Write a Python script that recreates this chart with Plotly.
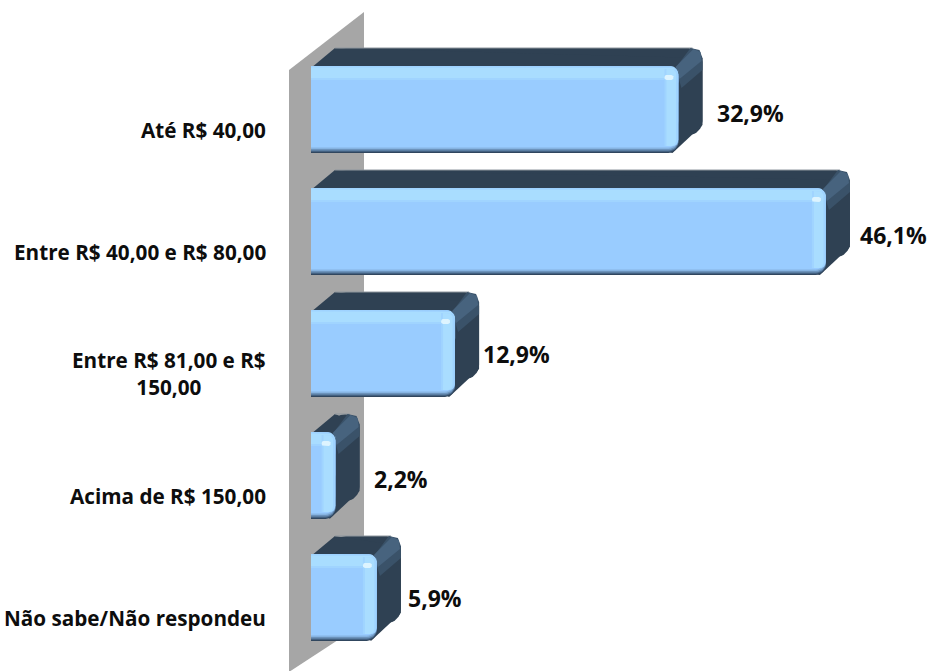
import numpy as np
import plotly.graph_objects as go

categories = ["Até R$ 40,00", "Entre R$ 40,00 e R$ 80,00", "Entre R$ 81,00 e R$<br>150,00",
              "Acima de R$ 150,00", "Não sabe/Não respondeu"]
values = [32.9, 46.1, 12.9, 2.2, 5.9]
labels = ["32,9%", "46,1%", "12,9%", "2,2%", "5,9%"]

W, H = 928, 671
X0, SX = 311.0, 11.17       # px of value 0, px per percentage point
Y0, SY = 109.5, 122.0       # px of first category, px per category
XR = [(0 - X0) / SX, (W - X0) / SX]
YR = [(H - Y0) / SY, (0 - Y0) / SY]
def ux(p): return p / SX
def uy(p): return p / SY
def dx(px): return (np.asarray(px, float) - X0) / SX
def dy(px): return (np.asarray(px, float) - Y0) / SY

DX, DY = ux(24), uy(18)
BAR = 0.713
HB = BAR / 2

def rrect(x0, y0, x1, y1, rx, ry, left=True):
    """rounded polygon in data units; y0 is the upper edge on screen"""
    t = np.linspace(0, np.pi / 2, 9)
    xs, ys = [], []
    if left:
        xs += list(x0 + rx - rx * np.cos(t)); ys += list(y0 + ry - ry * np.sin(t))
    else:
        xs.append(x0); ys.append(y0)
    xs += list(x1 - rx + rx * np.sin(t)); ys += list(y0 + ry - ry * np.cos(t))
    xs += list(x1 - rx + rx * np.cos(t)); ys += list(y1 - ry + ry * np.sin(t))
    if left:
        xs += list(x0 + rx - rx * np.sin(t)); ys += list(y1 - ry + ry * np.cos(t))
    else:
        xs.append(x0); ys.append(y1)
    return xs + [xs[0]], ys + [ys[0]]

def poly(xs, ys, color, axis=1):
    suf = "" if axis == 1 else "2"
    return go.Scatter(x=xs, y=ys, mode="lines", fill="toself", fillcolor=color,
                      line=dict(width=0, color=color),
                      hoverinfo="skip", showlegend=False,
                      xaxis="x" + suf, yaxis="y" + suf)

fig = go.Figure()

# grey wall
wx = [289, 364, 364, 289]
wy = [70, 12, 623, 672]
fig.add_trace(poly(list(dx(wx)), list(dy(wy)), "#A6A6A6"))

RX, RY = ux(10), uy(10)
for i, v in enumerate(values):
    top, bot = i - HB, i + HB
    # back block: outline of top and side faces
    bx, by = rrect(DX - ux(3), top - DY, v + DX, bot - DY, RX * 1.4, RY * 1.4)
    fig.add_trace(poly(bx, by, "#2F4153"))
    # connection between front and back (fills the slanted corners)
    fig.add_trace(poly([0, DX, v + DX, v + DX, v - ux(6), 0],
                       [top + uy(2), top - DY, top - DY + RY, bot - DY - RY, bot, top + uy(2)],
                       "#2F4153"))
    # thin grey top edge
    fig.add_trace(go.Scatter(x=[DX, v + DX - RX], y=[top - DY, top - DY], mode="lines",
                             line=dict(width=1, color="#8F979E"), hoverinfo="skip", showlegend=False))
    # lighter bevel along the upper right edge
    fig.add_trace(poly([v - ux(3), v + DX - ux(12), v + DX - ux(3), v + DX, v + DX, v + ux(3)],
                       [top + uy(2), top - DY, top - DY + uy(2), top - DY + uy(10), top - DY + uy(22), top + uy(22)],
                       "#3A5269"))
    fig.add_trace(poly([v - ux(3), v + DX - ux(9), v + DX - ux(2), v + DX - ux(1), v + ux(1)],
                       [top + uy(1), top - DY + uy(1), top - DY + uy(4), top - DY + uy(13), top + uy(13)],
                       "#47637E"))

# front faces: real bars drawn from the values
fig.add_trace(go.Bar(y=list(range(len(values))), x=values, orientation="h", width=BAR,
                     marker=dict(color="#30465E", cornerradius=10, line=dict(width=0)),
                     hoverinfo="skip", showlegend=False, xaxis="x2", yaxis="y2"))

for i, v in enumerate(values):
    top, bot = i - HB, i + HB
    for inset, col in [(1.2, "#4A6A8C"), (2.6, "#6C93BC"), (4.0, "#86B4E2"), (5.5, "#99CCFF")]:
        xs, ys = rrect(0, top, v, bot - uy(inset), RX, RY, left=False)
        fig.add_trace(poly(xs, ys, col, axis=2))
    # top-edge highlight bands
    for t0, t1, col in [(0, 14, "#A0D4FF"), (1.5, 12, "#A9DDFF")]:
        xs, ys = rrect(0, top + uy(t0), v - ux(0.4), top + uy(t1), RX * 0.8, RY * 0.8, left=False)
        fig.add_trace(poly(xs, ys, col, axis=2))
    # right-edge highlight bands
    for r0, r1, col in [(14, 0.5, "#A0D4FF"), (12, 2.5, "#A9DDFF")]:
        xs, ys = rrect(v - ux(r0), top + uy(3), v - ux(r1), bot - uy(7), ux(5), uy(5), left=False)
        fig.add_trace(poly(xs, ys, col, axis=2))
    # specular spot
    xs, ys = rrect(v - ux(14), top + uy(9), v - ux(5), top + uy(14), ux(2), uy(2))
    fig.add_trace(poly(xs, ys, "#DDF4FF", axis=2))

# value labels
lab_dx = [39, 34, 28, 38, 31]
lab_dy = [3, 3, 0, 3, 0]
for i, (v, t) in enumerate(zip(values, labels)):
    fig.add_annotation(x=v, y=i, text=f"<b>{t}</b>", showarrow=False, xanchor="left",
                       xshift=lab_dx[i] - 2, yshift=-lab_dy[i], xref="x2", yref="y2",
                       font=dict(family="Open Sans", size=23, color="#0D0D0D"))

# category labels
for i, c in enumerate(categories):
    fig.add_annotation(x=dx(268), y=i, text=f"<b>{c}</b>", showarrow=False, xanchor="right",
                       align="center", yshift=-20, xref="x2", yref="y2",
                       font=dict(family="Open Sans", size=20.7, color="#0D0D0D"))

ax = dict(showgrid=False, zeroline=False, showticklabels=False, ticks="", showline=False, fixedrange=True)
fig.update_layout(
    width=W, height=H, autosize=False, margin=dict(l=0, r=0, t=0, b=0),
    paper_bgcolor="white", plot_bgcolor="white", showlegend=False, barmode="overlay",
    xaxis=dict(range=XR, domain=[0, 1], **ax),
    yaxis=dict(range=YR, domain=[0, 1], **ax),
    xaxis2=dict(range=XR, overlaying="x", **ax),
    yaxis2=dict(range=YR, overlaying="y", **ax),
)
fig.write_html("out.html", config=dict(displayModeBar=False),
               post_script="document.body.style.margin='0';document.documentElement.style.overflow='hidden';")
